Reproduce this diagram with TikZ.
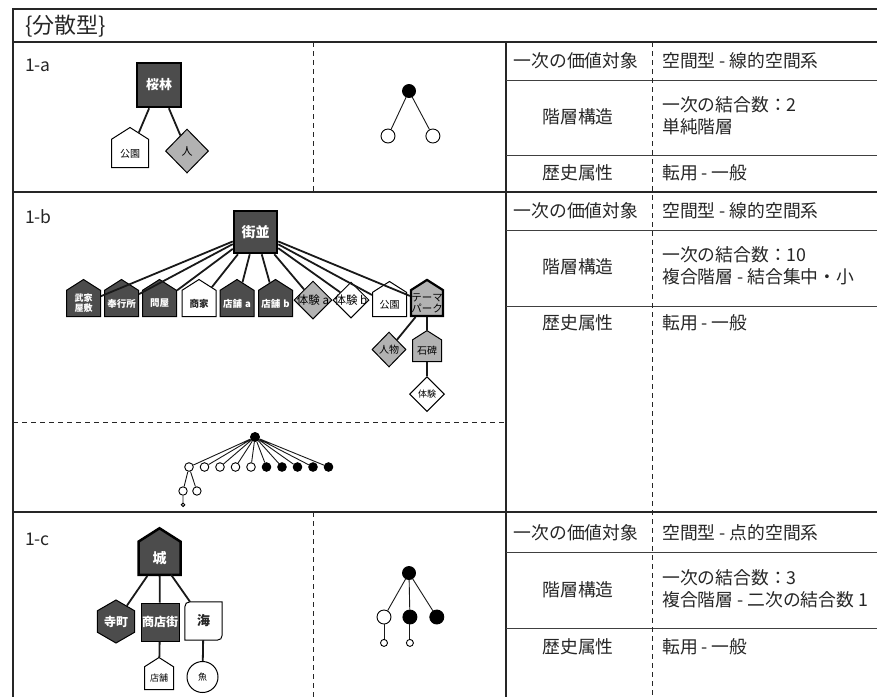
\documentclass[tikz,border=0pt]{standalone}
\usepackage{fontspec}
\setmainfont{Noto Sans CJK JP}
\usepackage{tikz}
\usetikzlibrary{arrows.meta, positioning, calc, shapes.geometric, shapes.symbols}
\definecolor{darkfill}{gray}{0.30}
\definecolor{midfill}{gray}{0.70}
\newcommand{\fsz}[2]{\fontsize{#1}{#2}\selectfont}

\begin{document}
\begin{tikzpicture}[
    x=1pt, y=-1pt,
    frame/.style={draw=black!85, line width=2pt},
    rule/.style={draw=black!75, line width=1pt},
    splitline/.style={draw=black!85, line width=1pt, dash pattern=on 5pt off 4pt},
    cell/.style={inner sep=0pt, font=\fsz{17.8}{22}, text=black!85},
    entry/.style={cell, anchor=west, align=left},
    tag/.style={inner sep=0pt, anchor=west, font=\fsz{17.5}{20}, text=black!85},
    darkbox/.style={draw=black, rectangle, line width=2.5pt, fill=darkfill, text=white, inner sep=0pt},
    house/.style={signal, signal to=north, signal pointer angle=115, draw=black, line width=1pt, fill=#1, inner sep=0pt, anchor=south, align=center},
    gem/.style={diamond, draw=black, line width=1pt, fill=#1, inner sep=0pt},
    hexa/.style={regular polygon, regular polygon sides=6, shape border rotate=30, draw=black, line width=1pt, fill=darkfill, text=white, inner sep=0pt},
    link/.style={draw=black!90, line width=1.8pt},
    dotb/.style={circle, draw=black, line width=0.9pt, fill=black, inner sep=0pt, minimum size=#1},
    doto/.style={circle, draw=black, line width=0.9pt, fill=white, inner sep=0pt, minimum size=#1},
    twig/.style={draw=black!90, line width=0.9pt},
]
    \useasboundingbox (0,0) rectangle (877,697);

    % table frame
    \draw[frame] (877,9) -- (13,9) -- (13,697);
    \draw[frame] (13,42) -- (877,42);
    \draw[frame] (13,192) -- (877,192);
    \draw[frame] (13,512) -- (877,512);
    \draw[frame] (506,42) -- (506,697);
    \draw[rule] (506,80) -- (877,80);
    \draw[rule] (506,155) -- (877,155);
    \draw[rule] (506,230) -- (877,230);
    \draw[rule] (506,306) -- (877,306);
    \draw[rule] (506,552) -- (877,552);
    \draw[rule] (506,628) -- (877,628);
    \draw[splitline] (652,42) -- (652,697);
    \draw[splitline] (313,42) -- (313,192);
    \draw[splitline] (313,512) -- (313,697);
    \draw[splitline] (13,422) -- (506,422);

    % headings
    \node[inner sep=0pt, anchor=west, font=\fsz{22}{26}, text=black!85] (title) at (25,26) {\{分散型\}};
    \node[tag] (taga) at (25,65) {1-a};
    \node[tag] (tagb) at (25,217) {1-b};
    \node[tag] (tagc) at (25,539) {1-c};

    % attribute cells
    \node[cell]  (vala)  at (576,61)  {一次の価値対象};
    \node[entry] (vtxa)  at (662,61)  {空間型 - 線的空間系};
    \node[cell]  (hiera) at (578,117) {階層構造};
    \node[entry] (htxa)  at (662,116) {一次の結合数：2\\単純階層};
    \node[cell]  (hista) at (578,173) {歴史属性};
    \node[entry] (stxa)  at (662,173) {転用 - 一般};

    \node[cell]  (valb)  at (576,211) {一次の価値対象};
    \node[entry] (vtxb)  at (662,211) {空間型 - 線的空間系};
    \node[cell]  (hierb) at (578,267) {階層構造};
    \node[entry] (htxb)  at (662,266) {一次の結合数：10\\複合階層 - 結合集中・小};
    \node[cell]  (histb) at (578,323) {歴史属性};
    \node[entry] (stxb)  at (662,323) {転用 - 一般};

    \node[cell]  (valc)  at (576,533) {一次の価値対象};
    \node[entry] (vtxc)  at (662,533) {空間型 - 点的空間系};
    \node[cell]  (hierc) at (578,590) {階層構造};
    \node[entry] (htxc)  at (662,589) {一次の結合数：3\\複合階層 - 二次の結合数 1};
    \node[cell]  (histc) at (578,647) {歴史属性};
    \node[entry] (stxc)  at (662,647) {転用 - 一般};

    % 1-a
    \node[darkbox, minimum size=44pt, font=\bfseries\fsz{13}{15}] (sakura) at (159,85) {桜林};
    \node[house=white, text width=37pt, minimum height=40pt, font=\fsz{10}{12}] (parka) at (130,168) {公園};
    \node[gem=midfill, minimum width=43pt, minimum height=44pt, font=\fsz{11}{13}] (persona) at (187,151) {\makebox[0pt]{人}};
    \draw[link] (sakura) -- (parka);
    \draw[link] (sakura) -- (persona);

    \node[dotb=13pt] (topa) at (409,91) {};
    \node[doto=14pt] (lefta) at (388,136) {};
    \node[doto=14pt, right=30pt of lefta] (righta) {};
    \draw[twig] (topa) -- (lefta);
    \draw[twig] (topa) -- (righta);

    % 1-b
    \node[darkbox, minimum width=43pt, minimum height=42pt, font=\bfseries\fsz{14}{16}] (street) at (255.5,232) {街並};
    \node[house=darkfill, text width=34pt, minimum height=37pt, text=white, font=\bfseries\fsz{9}{10}] (samurai) at (83.5,317) {武家\\屋敷};
    \node[house=darkfill, text width=34pt, minimum height=37pt, text=white, font=\bfseries\fsz{9.5}{11}] (bugyo) at (121.5,317) {奉行所};
    \node[house=darkfill, text width=34pt, minimum height=37pt, text=white, font=\bfseries\fsz{9.5}{11}] (tonya) at (159.5,317) {問屋};
    \node[house=white, text width=34pt, minimum height=37pt, text=black!85, font=\bfseries\fsz{9.5}{11}] (shoka) at (199,317) {商家};
    \node[house=darkfill, text width=34pt, minimum height=37pt, text=white, font=\bfseries\fsz{9.5}{11}] (tenpoa) at (237,317) {店舗 a};
    \node[house=darkfill, text width=34pt, minimum height=37pt, text=white, font=\bfseries\fsz{9.5}{11}] (tenpob) at (275.5,317) {店舗 b};
    \node[gem=midfill, minimum size=38pt, font=\fsz{11.5}{13}] (taikena) at (313,300) {\makebox[0pt]{体験 a}};
    \node[gem=white, minimum size=36pt, font=\fsz{11.5}{13}] (taikenb) at (351,300) {\makebox[0pt]{体験 b}};
    \node[house=white, text width=34pt, minimum height=35pt, font=\fsz{10}{12}] (parkb) at (389.5,317) {公園};
    \node[house=midfill, line width=2.2pt, text width=32pt, minimum height=36pt, font=\fsz{10.5}{11}] (theme) at (427,317) {テーマ\\パーク};
    \node[gem=midfill, minimum width=34pt, minimum height=35pt, font=\fsz{10}{12}] (figure) at (389,349.5) {\makebox[0pt]{人物}};
    \node[house=midfill, text width=29pt, minimum height=31pt, anchor=north, below=13pt of theme, font=\fsz{10}{12}] (stone) {石碑};
    \node[gem=white, minimum size=35pt, below=14pt of stone, font=\fsz{9}{11}] (trial) {\makebox[0pt]{体験}};

    \draw[link] (street) -- (samurai);
    \draw[link] (street) -- (bugyo);
    \draw[link] (street) -- (tonya);
    \draw[link] (street) -- (shoka);
    \draw[link] (street) -- (tenpoa);
    \draw[link] (street) -- (tenpob);
    \draw[link] (street) -- (taikena);
    \draw[link] (street) -- (taikenb);
    \draw[link] (street) -- (parkb);
    \draw[link] (street) -- (theme);
    \draw[link] (theme) -- (figure);
    \draw[link] (theme) -- (stone);
    \draw[link] (stone) -- (trial);

    \node[dotb=9pt] (topb) at (255,437) {};
    \node[doto=8.6pt] (b1) at (189,467) {};
    \node[doto=8.6pt, right=6pt of b1] (b2) {};
    \node[doto=8.6pt, right=6pt of b2] (b3) {};
    \node[doto=8.6pt, right=6pt of b3] (b4) {};
    \node[doto=8.6pt, right=6pt of b4] (b5) {};
    \node[dotb=8.6pt, right=6pt of b5] (b6) {};
    \node[dotb=8.6pt, right=6pt of b6] (b7) {};
    \node[dotb=8.6pt, right=6pt of b7] (b8) {};
    \node[dotb=8.6pt, right=6pt of b8] (b9) {};
    \node[dotb=8.6pt, right=6pt of b9] (b10) {};
    \node[doto=8.4pt] (b11) at (183,491) {};
    \node[doto=8.4pt, right=4.6pt of b11] (b12) {};
    \node[doto=3.5pt, below=7pt of b11] (b13) {};
    \draw[twig] (topb) -- (b1) (topb) -- (b2) (topb) -- (b3) (topb) -- (b4) (topb) -- (b5);
    \draw[twig] (topb) -- (b6) (topb) -- (b7) (topb) -- (b8) (topb) -- (b9) (topb) -- (b10);
    \draw[twig] (b1) -- (b11) (b1) -- (b12) (b11) -- (b13);

    % 1-c
    \node[house=darkfill, line width=2.5pt, text width=42pt, minimum height=46.5pt, text=white, font=\bfseries\fsz{14}{16}] (castle) at (159.5,576) {城};
    \node[hexa, minimum size=43pt, font=\bfseries\fsz{12}{14}] (temple) at (116,621.5) {寺町};
    \node[darkbox, line width=1pt, minimum size=38pt, font=\bfseries\fsz{12}{14}] (arcade) at (160,622) {商店街};
    \node[inner sep=0pt, minimum width=37pt, minimum height=38pt, text=black!85, font=\bfseries\fsz{13}{15}] (sea) at (203.5,621) {海};
    \draw[line width=1pt] (sea.south west) -- ([yshift=-11pt]sea.north west)
        .. controls (sea.north west) .. ([xshift=11pt]sea.north west) -- (sea.north east)
        -- ([yshift=11pt]sea.south east)
        .. controls (sea.south east) .. ([xshift=-11pt]sea.south east) -- cycle;
    \node[house=white, text width=29pt, minimum height=32pt, font=\fsz{9}{11}] (shop) at (159,690) {店舗};
    \node[circle, draw=black, line width=1pt, inner sep=0pt, minimum size=31pt, font=\fsz{9}{11}] (fish) at (202.5,677) {魚};
    \draw[link] (castle) -- (temple);
    \draw[link] (castle) -- (arcade);
    \draw[link] (castle) -- (sea);
    \draw[link] (arcade) -- (shop);
    \draw[link] (sea) -- (fish);

    \node[dotb=13pt] (topc) at (409,573) {};
    \node[doto=14pt] (c1) at (384,617) {};
    \node[dotb=14pt, right=11pt of c1] (c2) {};
    \node[dotb=14pt, right=12pt of c2] (c3) {};
    \node[doto=7pt, below=14.5pt of c1] (c11) {};
    \node[doto=7pt, below=14.5pt of c2] (c21) {};
    \draw[twig] (topc) -- (c1) (topc) -- (c2) (topc) -- (c3);
    \draw[twig] (c1) -- (c11) (c2) -- (c21);
\end{tikzpicture}
\end{document}
